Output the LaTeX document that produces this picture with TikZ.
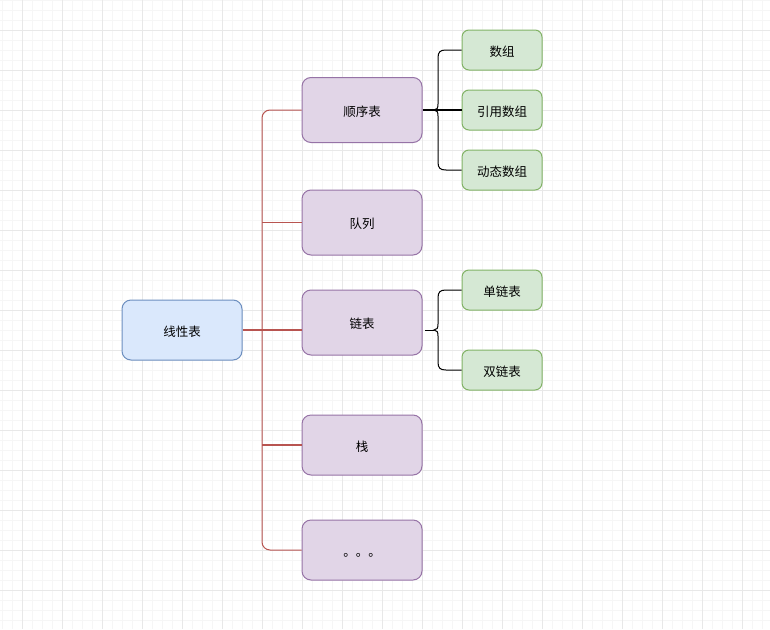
\documentclass[tikz,border=0pt]{standalone}
\usepackage{fontspec}
\newfontfamily\cjk{Noto Sans CJK SC}
\definecolor{gridminor}{HTML}{F6F6F6}
\definecolor{gridmajor}{HTML}{E8E8E8}
\definecolor{bluefill}{HTML}{DAE8FC}
\definecolor{bluedraw}{HTML}{6C8EBF}
\definecolor{purpfill}{HTML}{E1D5E7}
\definecolor{purpdraw}{HTML}{9673A6}
\definecolor{greenfill}{HTML}{D5E8D4}
\definecolor{greendraw}{HTML}{82B366}
\definecolor{redline}{HTML}{B85450}
\begin{document}
\begin{tikzpicture}[x=1pt,y=-1pt,
  basebox/.style={rounded corners=9pt, inner sep=0pt, line width=1pt, text=black,
    text height=12.5pt, text depth=0pt,
    font=\cjk\fontsize{12.5}{14}\selectfont},
  rootbox/.style={basebox, draw=bluedraw, fill=bluefill, minimum width=120pt, minimum height=60pt},
  midbox/.style={basebox, draw=purpdraw, fill=purpfill, minimum width=120pt, minimum height=65pt},
  lowbox/.style={basebox, draw=purpdraw, fill=purpfill, minimum width=120pt, minimum height=60pt},
  leafbox/.style={basebox, rounded corners=7pt, draw=greendraw, fill=greenfill, minimum width=80pt, minimum height=40pt},
  rededge/.style={draw=redline, line width=1pt},
  blkedge/.style={draw=black, line width=1pt}]
\useasboundingbox (0,0) rectangle (770,629);
\fill[white] (0,0) rectangle (770,629);
% grid
\foreach \x in {2.5,12.5,...,770} \draw[gridminor, line width=1pt] (\x,0) -- (\x,629);
\foreach \y in {0.5,10.5,...,629} \draw[gridminor, line width=1pt] (0,\y) -- (770,\y);
\foreach \x in {22.5,62.5,...,770} \draw[gridmajor, line width=1pt] (\x,0) -- (\x,629);
\foreach \y in {30.5,70.5,...,629} \draw[gridmajor, line width=1pt] (0,\y) -- (770,\y);

% nodes
\node[rootbox] (root) at (182,330) {线性表};
\node[midbox] (s1) at (362,110) {顺序表};
\node[midbox] (q) at (362,222.5) {队列};
\node[midbox] (l) at (362,322.5) {链表};
\node[lowbox] (st) at (362,445) {栈};
\node[lowbox] (dots) at (362,550) {。。。};
\node[leafbox] (a1) at (502,50) {数组};
\node[leafbox] (a2) at (502,110) {引用数组};
\node[leafbox] (a3) at (502,170) {动态数组};
\node[leafbox] (d1) at (502,290) {单链表};
\node[leafbox] (d2) at (502,370) {双链表};

% red tree edges
\coordinate (j) at (262,330);
\draw[rededge, line width=1.8pt] (root.east) -- (root.east -| l.west);
\draw[rededge, rounded corners=8pt] (j) |- (s1.west);
\draw[rededge, line width=1.6pt] (j |- q.west) -- (q.west);
\draw[rededge, line width=1.6pt] (j |- st.west) -- (st.west);
\draw[rededge, rounded corners=8pt] (j) |- (dots.west);

% brace for 顺序表
\draw[blkedge, line width=2.2pt] (s1.east) -- (a2.west);
\draw[blkedge] (a1.west) -- (446,50) .. controls (440,50) and (438,52) .. (438,58)
  -- (438,104) .. controls (438,108) and (437,110) .. (434,110)
  .. controls (437,110) and (438,112) .. (438,116)
  -- (438,162) .. controls (438,168) and (440,170) .. (446,170) -- (a3.west);

% brace for 链表
\coordinate (ltip) at (425,330);
\draw[blkedge] (ltip) -- (434,330);
\draw[blkedge] (d1.west) -- (446,290) .. controls (440,290) and (438,292) .. (438,298)
  -- (438,324) .. controls (438,328) and (437,330) .. (434,330)
  .. controls (437,330) and (438,332) .. (438,336)
  -- (438,362) .. controls (438,368) and (440,370) .. (446,370) -- (d2.west);
\end{tikzpicture}
\end{document}
